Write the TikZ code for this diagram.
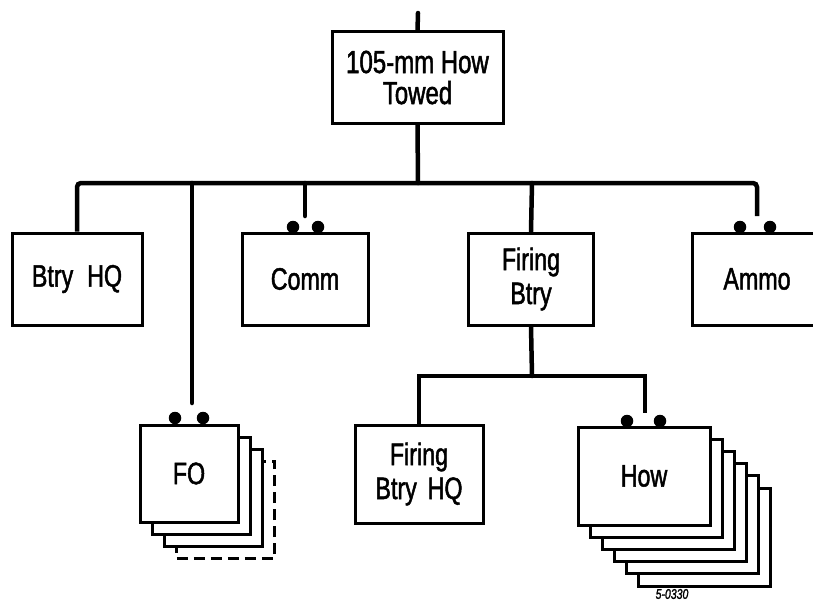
\documentclass[tikz,border=0pt]{standalone}
\usepackage{fontspec}
\setmainfont{Liberation Sans}[FakeStretch=0.75, FakeBold=1.5]
\begin{document}
\begin{tikzpicture}[x=1pt,y=-1pt,
  box/.style={draw=black, line width=3pt, fill=white, inner sep=0pt, align=center,
    font=\fontsize{31}{34}\selectfont},
  conn/.style={line width=4.5pt, line cap=round},
  dotmark/.style={circle, fill=black, inner sep=0pt, minimum size=12.5pt}]
\useasboundingbox (0,0) rectangle (813,602);
\fill[white] (0,0) rectangle (813,602);

% top box
\node[box, minimum width=171pt, minimum height=91pt, font=\fontsize{32}{31}\selectfont] (top) at (417.5,77.5) {105-mm How\\Towed};
\coordinate (topend) at (418,13);

% first row
\node[box, minimum width=130pt, minimum height=92pt] (btryhq) at (77,279) {Btry\hspace{0.45em}HQ};
\node[box, minimum width=126pt, minimum height=92pt] (comm) at (305,279) {Comm};
\node[box, minimum width=125pt, minimum height=92pt] (firing) at (531,279) {Firing\\Btry};
\node[box, minimum width=130pt, minimum height=92pt] (ammo) at (757,279) {Ammo};

% second row
\node[box, minimum width=128pt, minimum height=98pt] (fbhq) at (419,474) {Firing\\Btry\hspace{0.35em}HQ};

% FO stack
\node[box, dashed, dash pattern=on 11pt off 6pt, minimum width=98pt, minimum height=97pt] (foc3) at ({189+3*12.3},{473.5+3*12}) {};
\foreach \i in {2,1}{
  \node[box, minimum width=98pt, minimum height=97pt] (foc\i) at ({189+\i*12.3},{473.5+\i*12}) {};
}
\node[box, minimum width=98pt, minimum height=97pt] (fo) at (189,473.5) {FO};

% How stack
\foreach \i in {5,4,3,2,1}{
  \node[box, minimum width=132pt, minimum height=98pt] (howc\i) at ({644+\i*12},{476+\i*12.2}) {};
}
\node[box, minimum width=132pt, minimum height=98pt] (how) at (644,476) {How};

% dots
\node[dotmark] (cd1) at (293,227) {};
\node[dotmark] (cd2) at (318,227) {};
\node[dotmark] (ad1) at (740,227) {};
\node[dotmark] (ad2) at (770,227) {};
\node[dotmark] (fd1) at (175,418) {};
\node[dotmark] (fd2) at (203,418) {};
\node[dotmark] (hd1) at (627,421) {};
\node[dotmark] (hd2) at (660,421) {};

% connector coordinates
\coordinate (bus) at (418,183);
\coordinate (busR) at (757,183);
\coordinate (ammoend) at (757,216);
\coordinate (commtop) at (305,183);
\coordinate (commend) at (305,216);
\coordinate (fotop) at (192,183);
\coordinate (foend) at (192,403);
\coordinate (firtop) at (532,183);
\coordinate (bus2) at (532,376);
\coordinate (bus2R) at (645,376);
\coordinate (howend) at (645,413);

% connectors
\draw[conn] (topend) -- (top.north);
\draw[conn] (top.south) -- (bus);
\draw[conn, line cap=butt, rounded corners=4pt] (btryhq.north) |- (busR) -- (ammoend);
\draw[conn] (commtop) -- (commend);
\draw[conn] (fotop) -- (foend);
\draw[conn] (firtop) -- (firing.north);
\draw[conn] (firing.south) -- (bus2);
\draw[conn, line cap=butt] (fbhq.north) |- (bus2R) -- (howend);

% label
\node[font=\itshape\fontsize{14}{15}\selectfont] (code) at (672,594) {5-0330};
\end{tikzpicture}
\end{document}
